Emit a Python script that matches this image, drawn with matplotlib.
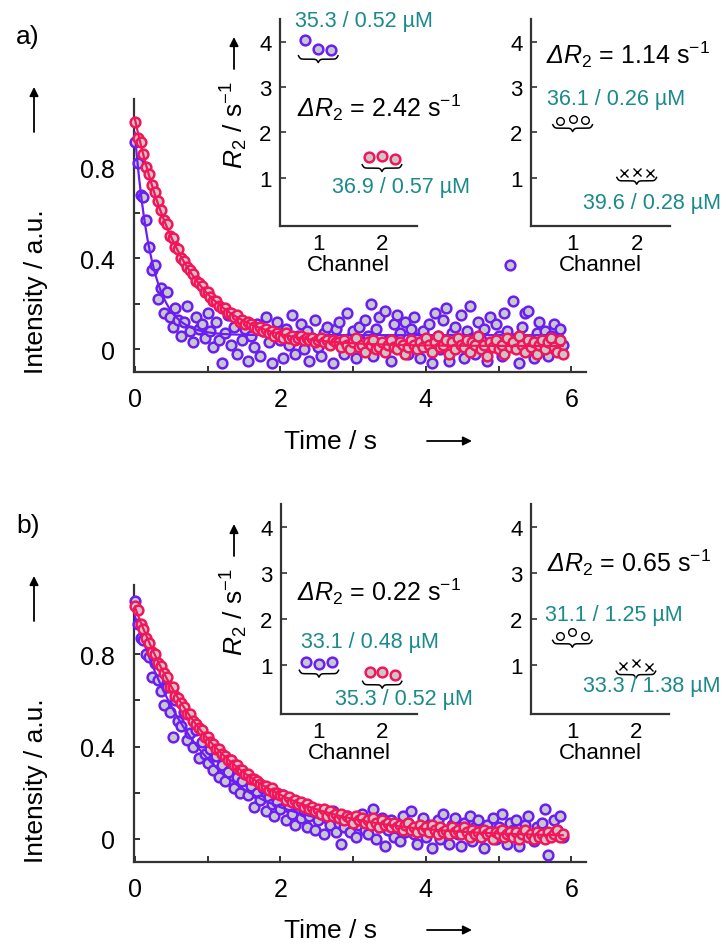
import numpy as np
import matplotlib
matplotlib.use('Agg')
import matplotlib.pyplot as plt
from matplotlib.patches import FancyArrowPatch

plt.rcParams['font.family'] = ['Liberation Sans', 'DejaVu Sans']
plt.rcParams['mathtext.fontset'] = 'custom'
plt.rcParams['mathtext.rm'] = 'Liberation Sans'
plt.rcParams['mathtext.it'] = 'Liberation Sans:italic'
plt.rcParams['mathtext.sf'] = 'Liberation Sans:italic'

# ---------------- data ----------------
DT = 0.04
time_s = np.arange(148) * DT

intensity_a_red = [
    1.00, 0.93, 0.91, 0.86, 0.80, 0.77, 0.72, 0.69, 0.65, 0.61,
    0.57, 0.55, 0.50, 0.49, 0.45, 0.44, 0.40, 0.39, 0.36, 0.35,
    0.33, 0.30, 0.29, 0.28, 0.25, 0.25, 0.23, 0.21, 0.21, 0.19,
    0.18, 0.18, 0.16, 0.16, 0.14, 0.15, 0.12, 0.13, 0.11, 0.12,
    0.11, 0.10, 0.09, 0.10, 0.08, 0.09, 0.07, 0.08, 0.06, 0.07,
    0.06, 0.05, 0.07, 0.05, 0.06, 0.04, 0.05, 0.06, 0.04, 0.05,
    0.04, 0.05, 0.03, 0.04, 0.05, 0.03, 0.04, 0.02, 0.04, 0.03,
    0.03, 0.01, 0.04, 0.02, 0.00, 0.03, 0.05, 0.01, 0.02, -0.01,
    0.03, 0.02, 0.04, 0.00, 0.01, 0.03, -0.01, 0.02, 0.04, 0.01,
    0.00, 0.03, 0.02, -0.02, 0.01, 0.04, 0.02, 0.00, 0.03, 0.01,
    0.05, 0.02, -0.01, 0.03, 0.06, 0.01, 0.02, 0.04, -0.02, 0.03,
    0.00, 0.05, 0.02, 0.01, 0.04, -0.01, 0.03, 0.02, 0.06, 0.00,
    0.02, -0.03, 0.03, 0.01, 0.04, 0.00, 0.02, -0.02, 0.05, 0.01,
    0.03, 0.00, 0.06, 0.02, -0.01, 0.04, 0.01, 0.03, -0.02, 0.02,
    0.04, 0.00, 0.03, 0.05, 0.01, -0.01, 0.04, -0.02]

intensity_a_purple = [
    0.91, 0.82, 0.68, 0.67, 0.57, 0.45, 0.35, 0.37, 0.22, 0.27,
    0.16, 0.25, 0.14, 0.10, 0.18, 0.13, 0.06, 0.12, 0.19, 0.08,
    0.03, 0.14, 0.09, 0.11, 0.05, 0.16, 0.08, 0.01, 0.12, 0.04,
    -0.06, 0.07, 0.15, 0.02, 0.10, -0.02, 0.13, 0.04, 0.09, -0.05,
    0.06, 0.01, 0.11, -0.03, 0.08, 0.14, 0.03, -0.06, 0.07, 0.12,
    0.04, -0.04, 0.09, 0.02, 0.15, -0.02, 0.06, 0.11, 0.00, 0.08,
    -0.05, 0.05, 0.13, 0.01, -0.03, 0.07, 0.10, 0.03, -0.06, 0.09,
    0.12, 0.02, -0.02, 0.16, 0.05, 0.08, -0.04, 0.10, 0.03, 0.13,
    0.06, 0.20, -0.03, 0.09, 0.14, 0.01, 0.17, 0.04, -0.05, 0.11,
    0.15, 0.07, 0.02, 0.12, -0.02, 0.09, 0.14, 0.05, -0.04, 0.08,
    0.03, 0.11, -0.06, 0.16, 0.06, 0.00, 0.13, 0.18, -0.05, 0.07,
    0.10, 0.02, 0.15, -0.04, 0.08, 0.19, 0.05, -0.02, 0.12, 0.04,
    0.09, -0.05, 0.14, 0.02, 0.11, 0.06, -0.03, 0.16, 0.08, 0.37,
    0.21, 0.05, -0.06, 0.10, 0.16, 0.17, 0.03, -0.04, 0.07, 0.12,
    0.01, 0.08, -0.03, 0.06, 0.11, 0.04, 0.09, 0.02]

intensity_b_red = [
    1.01, 0.99, 0.93, 0.91, 0.87, 0.85, 0.81, 0.80, 0.76, 0.75,
    0.72, 0.70, 0.66, 0.66, 0.62, 0.61, 0.59, 0.57, 0.54, 0.54,
    0.51, 0.50, 0.48, 0.47, 0.44, 0.44, 0.42, 0.41, 0.39, 0.39,
    0.37, 0.36, 0.34, 0.34, 0.32, 0.32, 0.30, 0.30, 0.28, 0.28,
    0.26, 0.26, 0.25, 0.24, 0.23, 0.23, 0.21, 0.22, 0.20, 0.20,
    0.19, 0.19, 0.17, 0.18, 0.16, 0.17, 0.15, 0.16, 0.14, 0.15,
    0.13, 0.14, 0.12, 0.13, 0.11, 0.13, 0.10, 0.12, 0.10, 0.11,
    0.09, 0.11, 0.08, 0.10, 0.09, 0.07, 0.10, 0.08, 0.09, 0.07,
    0.08, 0.06, 0.09, 0.07, 0.05, 0.08, 0.06, 0.07, 0.05, 0.07,
    0.05, 0.06, 0.04, 0.06, 0.07, 0.04, 0.05, 0.03, 0.06, 0.04,
    0.05, 0.03, 0.06, 0.04, 0.02, 0.05, 0.03, 0.04, 0.02, 0.05,
    0.03, 0.04, 0.02, 0.05, 0.03, 0.01, 0.04, 0.02, 0.03, 0.01,
    0.04, 0.02, 0.03, 0.00, 0.03, 0.02, 0.04, 0.01, 0.02, 0.03,
    0.01, 0.03, 0.00, 0.02, 0.04, 0.01, 0.02, 0.00, 0.03, 0.01,
    0.02, 0.00, 0.03, 0.01, 0.02, 0.04, 0.01, 0.02]

intensity_b_purple = [
    1.03, 0.93, 0.87, 0.86, 0.80, 0.79, 0.70, 0.76, 0.69, 0.64,
    0.58, 0.66, 0.55, 0.44, 0.60, 0.51, 0.49, 0.55, 0.43, 0.46,
    0.40, 0.47, 0.35, 0.42, 0.37, 0.33, 0.39, 0.30, 0.36, 0.27,
    0.32, 0.25, 0.29, 0.34, 0.22, 0.27, 0.20, 0.25, 0.28, 0.19,
    0.23, 0.14, 0.20, 0.17, 0.22, 0.12, 0.18, 0.15, 0.10, 0.16,
    0.13, 0.19, 0.08, 0.14, 0.11, 0.06, 0.15, 0.09, 0.12, 0.05,
    0.10, 0.13, 0.04, 0.08, 0.11, 0.02, 0.09, 0.06, 0.12, 0.03,
    0.07, -0.02, 0.05, 0.10, 0.03, 0.08, 0.01, 0.06, 0.11, 0.04,
    0.02, 0.07, 0.13, 0.00, 0.05, 0.09, -0.03, 0.04, 0.08, 0.01,
    0.06, -0.01, 0.10, 0.03, 0.07, 0.12, 0.02, -0.02, 0.05, 0.09,
    0.01, 0.06, -0.04, 0.04, 0.08, 0.00, 0.11, 0.03, -0.02, 0.06,
    0.09, 0.02, -0.03, 0.07, 0.04, 0.10, -0.01, 0.05, 0.08, 0.01,
    -0.04, 0.06, 0.03, 0.09, 0.00, 0.05, 0.11, 0.02, -0.02, 0.07,
    0.04, 0.08, -0.03, 0.02, 0.06, 0.10, 0.01, -0.01, 0.05, 0.03,
    0.07, 0.13, -0.07, 0.02, 0.08, 0.04, 0.10, 0.01]

# R2 values (s^-1) of the three replicates per channel
replicate_offsets = [-0.2, 0.0, 0.2]
r2_a_ch1 = [4.03, 3.84, 3.82]
r2_a_ch2 = [1.45, 1.48, 1.42]
r2_a_ref1 = [2.26, 2.30, 2.28]
r2_a_ref2 = [1.10, 1.13, 1.10]
r2_b_ch1 = [1.07, 1.02, 1.06]
r2_b_ch2 = [0.85, 0.86, 0.78]
r2_b_ref1 = [1.63, 1.72, 1.63]
r2_b_ref2 = [0.98, 1.04, 0.96]

delta_labels = ['2.42', '1.14', '0.22', '0.65']
conc_labels = [('35.3 / 0.52 µM', '36.9 / 0.57 µM'),
               ('36.1 / 0.26 µM', '39.6 / 0.28 µM'),
               ('33.1 / 0.48 µM', '35.3 / 0.52 µM'),
               ('31.1 / 1.25 µM', '33.3 / 1.38 µM')]

# ---------------- style ----------------
PURPLE = '#6a1ef5'
RED = '#f5145a'
FACE = '#c8c8c8'
TEAL = '#1b8a8a'
SPINE = '#333333'

W, H = 727, 945
fig = plt.figure(figsize=(W / 100, H / 100), dpi=100)


def fx(x):
    return x / W


def fy(y):
    return 1 - y / H


def add_axes_px(left, top, right, bottom):
    return fig.add_axes([fx(left), fy(bottom), (right - left) / W, (bottom - top) / H])


def exp_fit(t, y):
    t = np.asarray(t, float)
    y = np.asarray(y, float)
    best = None
    for k in np.linspace(0.2, 8.0, 781):
        f = np.exp(-k * t)
        M = np.column_stack([f, np.ones_like(f)])
        coef = np.linalg.lstsq(M, y, rcond=None)[0]
        sse = np.sum((M @ coef - y) ** 2)
        if best is None or sse < best[0]:
            best = (sse, k, coef)
    return best[1], best[2]


def style_spines(ax):
    for s in ['top', 'right']:
        ax.spines[s].set_visible(False)
    for s in ['left', 'bottom']:
        ax.spines[s].set_color(SPINE)
        ax.spines[s].set_linewidth(1.6)
    ax.set_facecolor('none')


def main_panel(ax, purple, red):
    t = time_s
    tt = np.linspace(0, t.max(), 400)
    for y, col, z in [(purple, PURPLE, 3), (red, RED, 5)]:
        ax.plot(t, y, 'o', ms=7.0, mfc=FACE, mec=col, mew=1.8, ls='none',
                clip_on=False, zorder=z)
        k, (A, c) = exp_fit(t, y)
        ax.plot(tt, A * np.exp(-k * tt) + c, color=col, lw=1.6, zorder=z + 1)
    ax.set_xlim(-0.01, 6.2)
    ax.set_ylim(-0.1, 1.1)
    ax.set_xticks(range(7))
    ax.set_xticklabels(['0', '', '2', '', '4', '', '6'])
    ax.set_yticks([0, 0.2, 0.4, 0.6, 0.8, 1.0])
    ax.set_yticklabels(['0', '', '0.4', '', '0.8', ''])
    ax.tick_params(direction='in', length=4.5, width=1.4, color=SPINE,
                   labelsize=18)
    ax.tick_params(axis='x', pad=11)
    ax.tick_params(axis='y', pad=14)
    style_spines(ax)


def brace(ax, x0, x1, ytop, height):
    n = 201
    xs = np.linspace(x0, x1, n)
    half = xs[: n // 2 + 1]
    beta = 70.0
    yh = 1 / (1 + np.exp(-beta * (half - half[0]))) + 1 / (1 + np.exp(-beta * (half - half[-1])))
    ys = np.concatenate((yh, yh[-2::-1]))
    ax.plot(xs, ytop - (ys - 0.5) * height, color='k', lw=1.1, clip_on=False)


def inset(ax, g1, g2, kind, xlim):
    off = np.array(replicate_offsets)
    for ch, vals in [(1, g1), (2, g2)]:
        xs = ch + off
        if kind == 'filled':
            col = PURPLE if ch == 1 else RED
            ax.plot(xs, vals, 'o', ms=7.0, mfc=FACE, mec=col, mew=1.8, ls='none',
                    clip_on=False)
            gap = 0.13
        else:
            mk = 'o' if ch == 1 else 'x'
            ax.plot(xs, vals, mk, ms=5.5, mfc='none', mec='k',
                    mew=1.0, ls='none', clip_on=False)
            gap = 0.09
        brace(ax, xs[0] - 0.11, xs[-1] + 0.11, min(vals) - gap, 0.15)
    ax.set_xlim(*xlim)
    ax.set_ylim(-0.06, 4.5)
    ax.set_xticks([1, 2])
    ax.set_yticks([1, 2, 3, 4])
    ax.tick_params(axis='x', length=0, pad=5, labelsize=16)
    ax.tick_params(axis='y', direction='in', length=4, width=1.2, color=SPINE,
                   pad=6, labelsize=16)
    ax.set_xlabel('Channel', fontsize=16, labelpad=0)
    style_spines(ax)


def arrow(x0, y0, x1, y1):
    fig.add_artist(FancyArrowPatch((fx(x0), fy(y0)), (fx(x1), fy(y1)),
                                   transform=fig.transFigure, arrowstyle='-|>',
                                   mutation_scale=13, lw=1.3, color='k',
                                   shrinkA=0, shrinkB=0))


# ---------------- panels ----------------
shift = 489
ax_a = add_axes_px(134, 100, 586, 373)
main_panel(ax_a, intensity_a_purple, intensity_a_red)
ax_b = add_axes_px(134, 100 + shift - 3, 586, 373 + shift + 1)
main_panel(ax_b, intensity_b_purple, intensity_b_red)

ins = [
    (add_axes_px(280, 20, 417, 227), r2_a_ch1, r2_a_ch2, 'filled', (0.40, 2.55)),
    (add_axes_px(531, 20, 670, 227), r2_a_ref1, r2_a_ref2, 'open', (0.35, 2.52)),
    (add_axes_px(281, 505, 417, 715), r2_b_ch1, r2_b_ch2, 'filled', (0.40, 2.55)),
    (add_axes_px(531, 505, 669, 715), r2_b_ref1, r2_b_ref2, 'open', (0.35, 2.52)),
]
for ax, g1, g2, kind, xl in ins:
    inset(ax, g1, g2, kind, xl)

# ---------------- texts ----------------
for dy, lab in [(0, 'a)'), (shift, 'b)')]:
    fig.text(fx(28), fy(37 + dy), lab, fontsize=19, ha='center', va='center')
    fig.text(fx(36), fy(292 + dy), 'Intensity / a.u.', fontsize=19, rotation=90,
             ha='center', va='center')
    arrow(34, 133 + dy, 34, 88 + dy)
    fig.text(fx(330), fy(442 + dy), 'Time / s', fontsize=19, ha='center', va='center')
    arrow(427, 442 + dy, 472, 442 + dy)

# R2 axis labels of left insets
for dy in [0, 487]:
    fig.text(fx(234), fy(125 + dy), r'$\mathsf{R}_2$ / s$^{-1}$', fontsize=19,
             rotation=90, ha='center', va='center')
    arrow(234, 70 + dy, 234, 38 + dy)

delta_pos = [(297, 108), (546, 55), (297, 592), (547, 563)]
for (x, y), d in zip(delta_pos, delta_labels):
    fig.text(fx(x), fy(y), r'$\mathsf{\Delta R}_2$ = ' + d + r' s$^{-1}$', fontsize=18,
             ha='left', va='center')

conc_pos = [((364, 22), (401, 188)), ((616, 100), (652, 204)),
            ((370, 643), (404, 700)), ((614, 615), (652, 687))]
for (p1, p2), (l1, l2) in zip(conc_pos, conc_labels):
    fig.text(fx(p1[0]), fy(p1[1]), l1, fontsize=15.5, color=TEAL, ha='center', va='center')
    fig.text(fx(p2[0]), fy(p2[1]), l2, fontsize=15.5, color=TEAL, ha='center', va='center')

fig.savefig('out.png', dpi=100)
